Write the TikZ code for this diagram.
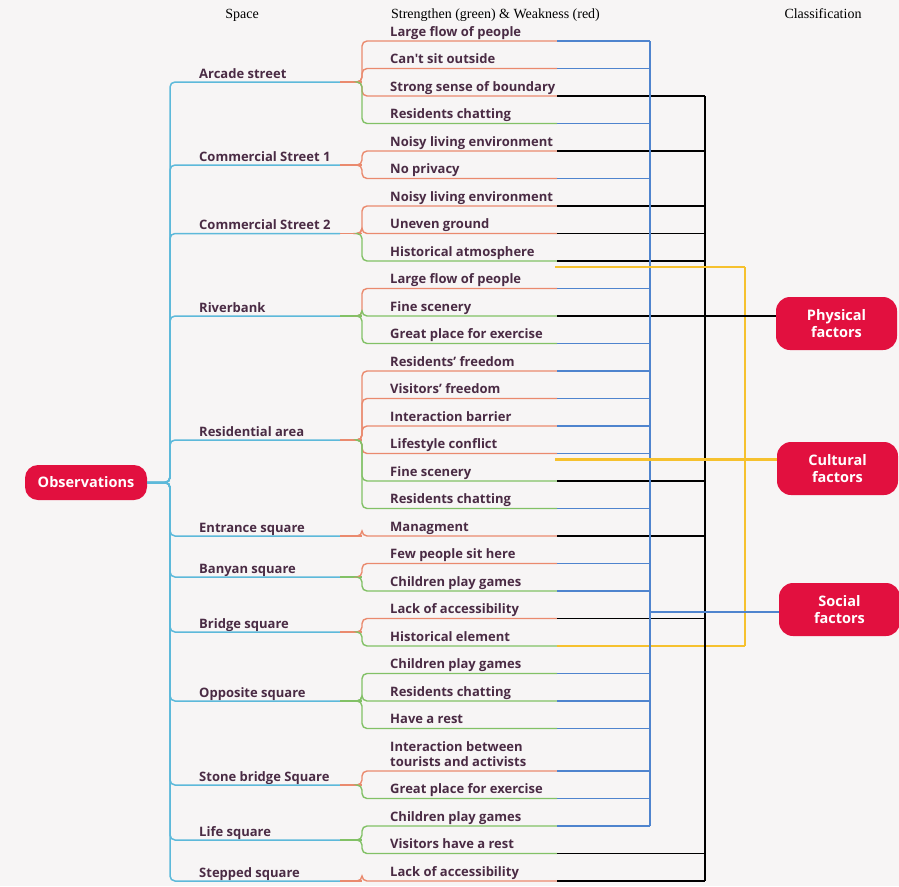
\documentclass[tikz,border=0pt]{standalone}
\usepackage{fontspec}
\setmainfont{Liberation Serif}
\newfontfamily\mapfont{Open Sans}
\usetikzlibrary{positioning,calc}

\definecolor{trunkblue}{HTML}{5DB9DA}
\definecolor{weakred}{HTML}{EA8A6E}
\definecolor{strongreen}{HTML}{82C166}
\definecolor{socialblue}{HTML}{4F84CE}
\definecolor{cultyellow}{HTML}{F6C12E}
\definecolor{factorred}{HTML}{E2103F}
\definecolor{labelplum}{HTML}{4A2B44}
\definecolor{paper}{HTML}{F7F5F5}

\tikzset{
  factor/.style={fill=factorred, rounded corners=14pt, text=white, align=center,
    font=\mapfont\bfseries\fontsize{14.5}{16.5}\selectfont,
    minimum width=121pt, minimum height=53pt, inner sep=2pt},
  space/.style={anchor=base west, inner sep=0pt, text=labelplum,
    font=\mapfont\bfseries\fontsize{13}{15}\selectfont},
  leaf/.style={anchor=base west, inner sep=0pt, text=labelplum, align=left,
    font=\mapfont\bfseries\fontsize{13}{15}\selectfont},
  head/.style={anchor=base, inner sep=0pt, font=\fontsize{14}{16}\selectfont},
  trunk/.style={trunkblue, line width=1.5pt, rounded corners=5pt},
  twig/.style={line width=1.4pt, rounded corners=5pt},
  link/.style={line width=1.3pt},
  bus/.style={line width=2.2pt}
}

\begin{document}
\begin{tikzpicture}[x=1pt,y=-1pt]
\useasboundingbox (0,0) rectangle (899,886);
\fill[paper] (0,0) rectangle (899,886);

\node[head] (hspace) at (242,18) {Space};
\node[head] (hswot) at (495.5,18) {Strengthen (green) \& Weakness (red)};
\node[head] (hclass) at (823,18) {Classification};

\node[factor, minimum width=122pt, minimum height=35pt, rounded corners=13pt] (obs) at (86,482.5) {Observations};

\foreach \n/\by/\txt/\lc in {arcade/82/Arcade street/weakred,
    comone/165/Commercial Street 1/weakred,
    comtwo/233.5/Commercial Street 2/weakred,
    river/316/Riverbank/strongreen,
    resid/440/Residential area/weakred,
    entrance/536/Entrance square/weakred,
    banyan/577/Banyan square/strongreen,
    bridge/632/Bridge square/weakred,
    opposite/701/Opposite square/strongreen,
    stone/785/Stone bridge Square/weakred,
    life/840/Life square/strongreen,
    stepped/881/Stepped square/weakred} {
  \node[space] (\n) at (199,\by-4) {\txt};
  \coordinate (j\n) at (340,\by);
  \draw[trunk] (obs.east) -- (170,482.5) -- (170,\by) -- (j\n);
  \draw[\lc, link] (j\n) -- (362,\by);
}

\foreach \i/\y/\by/\txt/\lc/\bc/\bx in {1/41/82/Large flow of people/weakred/socialblue/650,
    2/68.5/82/Can't sit outside/weakred/socialblue/650,
    3/96/82/Strong sense of boundary/weakred/black/705,
    4/123.5/82/Residents chatting/strongreen/socialblue/650,
    5/151/165/Noisy living environment/weakred/black/705,
    6/178.5/165/No privacy/weakred/socialblue/650,
    7/206/233.5/Noisy living environment/weakred/black/705,
    8/233.5/233.5/Uneven ground/weakred/black/705,
    9/261/233.5/Historical atmosphere/strongreen/black/705,
    10/288.5/316/Large flow of people/weakred/socialblue/650,
    11/316/316/Fine scenery/strongreen/black/705,
    12/343.5/316/Great place for exercise/strongreen/socialblue/650,
    13/371/440/Residents’ freedom/weakred/socialblue/650,
    14/398.5/440/Visitors’ freedom/weakred/socialblue/650,
    15/426/440/Interaction barrier/weakred/socialblue/650,
    16/453.5/440/Lifestyle conflict/weakred/socialblue/650,
    17/481/440/Fine scenery/strongreen/black/705,
    18/508.5/440/Residents chatting/strongreen/socialblue/650,
    19/536/536/Managment/weakred/black/705,
    20/563.5/577/Few people sit here/weakred/socialblue/650,
    21/591/577/Children play games/strongreen/socialblue/650,
    22/618.5/632/Lack of accessibility/weakred/black/705,
    23/646/632/Historical element/strongreen/cultyellow/745,
    24/673.5/701/Children play games/strongreen/socialblue/650,
    25/701/701/Residents chatting/strongreen/socialblue/650,
    26/728.5/701/Have a rest/strongreen/socialblue/650,
    27/771/785/{Interaction between\\tourists and activists}/weakred/socialblue/650,
    28/798.5/785/Great place for exercise/strongreen/socialblue/650,
    29/826/840/Children play games/strongreen/socialblue/650,
    30/853.5/840/Visitors have a rest/strongreen/black/705,
    31/881/881/Lack of accessibility/weakred/black/705} {
  \node[leaf] (l\i) at (390,\y-5) {\txt};
  \coordinate (e\i) at (557,\y);
  \coordinate (b\i) at (\bx,\y);
  \draw[\lc, twig] (358,\by) -- (362,\by) -- (362,\y) -- (e\i);
  \draw[\bc, link] (e\i) -- (b\i);
}

\node[factor] (phys) at (836.5,323.5) {Physical\\factors};
\node[factor] (cult) at (837.5,468.5) {Cultural\\factors};
\node[factor] (soc) at (839.5,609.5) {Social\\factors};

\draw[socialblue, bus] (b1) -- (b29);
\draw[black, bus] (b3) -- (b31);

\coordinate (c9) at (555,267);
\coordinate (c16) at (555,459.5);
\coordinate (ytop) at (745,267);
\draw[cultyellow, link] (c9) -- (ytop);
\draw[cultyellow, bus] (ytop) -- (b23);
\draw[cultyellow, bus] (c16) -- (c16 -| cult.west);

\draw[black, bus] (b11) -- (b11 -| phys.west);
\coordinate (sj) at (650,612);
\draw[socialblue, bus] (sj) -- (sj -| soc.west);
\end{tikzpicture}
\end{document}
